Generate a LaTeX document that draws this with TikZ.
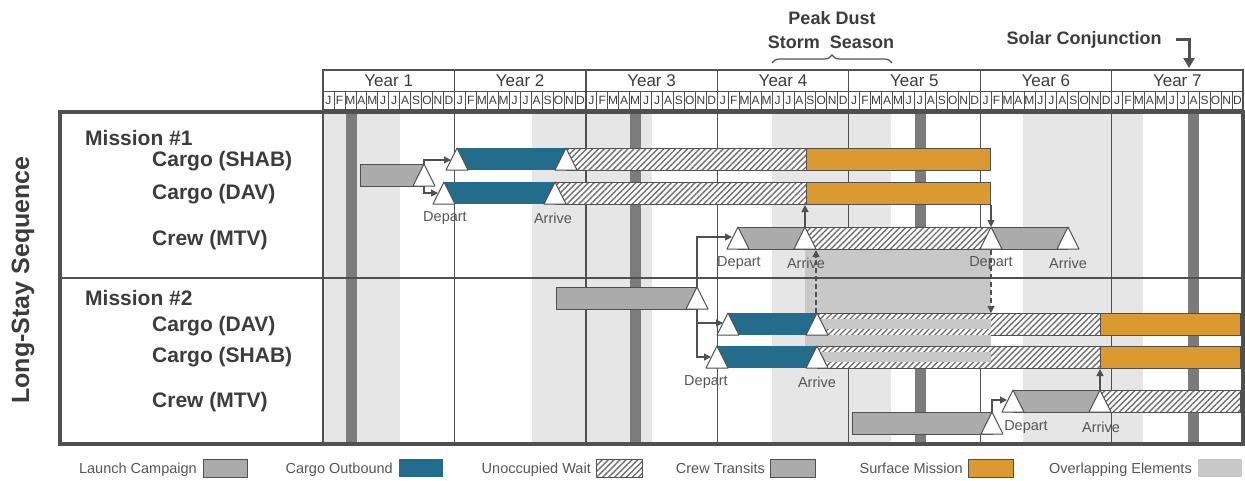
\documentclass[tikz,border=0pt]{standalone}
\usepackage{fontspec}
\setmainfont{Liberation Sans}
\usetikzlibrary{arrows.meta,patterns.meta,decorations.pathreplacing}
\definecolor{txt}{HTML}{3C3C3C}
\definecolor{lbl}{HTML}{555555}
\definecolor{edge}{HTML}{505050}
\definecolor{teal}{HTML}{246C8C}
\definecolor{orng}{HTML}{DA9A30}
\definecolor{lgray}{HTML}{ABABAB}
\definecolor{dkbar}{HTML}{7B7B7B}
\definecolor{dust}{HTML}{E6E6E6}
\definecolor{ovl}{HTML}{C8C8C8}
\definecolor{hatchc}{HTML}{707070}
\newcommand\myfs[1]{\fontsize{#1}{#1}\selectfont}
\newcommand\mytri[3]{%
  \draw[tri] (#2-11,#3+22) -- (#2,#3) -- (#2+11,#3+22) -- cycle;
  \coordinate (#1) at (#2,#3);
  \coordinate (#1-b) at (#2,#3+22);}
\tikzset{
  tri/.style={fill=white,draw=edge,line width=1pt,line join=round},
  launchbar/.style={fill=lgray,draw=edge,line width=0.9pt},
  crewbar/.style={fill=lgray,draw=none},
  tealbar/.style={fill=teal,draw=none},
  orangebar/.style={fill=orng,draw=edge,line width=0.8pt},
  hatchbar/.style={preaction={fill=white},pattern={Lines[angle=45,distance=4.2pt,line width=1.4pt]},pattern color=hatchc,draw=edge,line width=0.8pt},
  conn/.style={draw=edge,line width=1.2pt,-{Triangle[length=7pt,width=7pt]}},
  dconn/.style={conn,dashed,dash pattern=on 5pt off 3pt},
  rowlbl/.style={anchor=west,text=txt,font=\bfseries\myfs{21}},
  evlbl/.style={text=lbl,font=\myfs{14.5},inner sep=0pt},
  yearlbl/.style={text=txt,font=\myfs{17},inner sep=0pt},
  monlbl/.style={text=txt,font=\myfs{12},inner sep=0pt},
  leglbl/.style={anchor=base east,text=lbl,font=\myfs{14.5},inner sep=0pt},
}
\begin{document}
\begin{tikzpicture}[x=1pt,y=-1pt]
\useasboundingbox (0,0) rectangle (1245,480);
% dust storm seasons
\foreach \a/\b in {323/400,532/652,772/891,1023/1143}
  \fill[dust] (\a,113) rectangle (\b,444);
% solar conjunction bars
\foreach \a in {346,630,915,1188}
  \fill[dkbar] (\a,113) rectangle (\a+11,444);
% year lines
\foreach \k in {0,...,6}
  \draw[edge,line width=1.3pt] (323+\k*131.43,112) -- (323+\k*131.43,444);
% header
\draw[edge,line width=1.3pt] (323,70) rectangle (1243,110);
\draw[edge,line width=1pt] (323,91) -- (1243,91);
\foreach \k in {1,...,84}
  \draw[edge,line width=0.7pt] (323+\k*10.952,91) -- (323+\k*10.952,110);
\foreach \k in {1,...,6}
  \draw[edge,line width=1.3pt] (323+\k*131.43,70) -- (323+\k*131.43,110);
\foreach \k in {0,...,6}{
  \pgfmathtruncatemacro\yn{\k+1}
  \node[yearlbl] (y\k) at (323+\k*131.43+65.7,81) {Year \yn};
  \foreach \m [count=\i from 0] in {J,F,M,A,M,J,J,A,S,O,N,D}
    \node[monlbl] (m\k-\i) at (323+\k*131.43+\i*10.952+5.476,100.8) {\m};
}
% top annotations
\node[text=txt,font=\bfseries\myfs{18},inner sep=0pt] (peak) at (832,18) {Peak Dust};
\node[text=txt,font=\bfseries\myfs{18},inner sep=0pt] (storm) at (831,42) {Storm\ \ Season};
\coordinate (brL) at (772,63);
\coordinate (brR) at (892,63);
\draw[edge,line width=1.2pt,decorate,decoration={brace,amplitude=8pt}] (brL) -- (brR);
\node[text=txt,font=\bfseries\myfs{18},inner sep=0pt] (solar) at (1084,40) {Solar Conjunction};
\coordinate (solA) at (1176,39);
\coordinate (solB) at (1189,68);
\draw[edge,line width=3pt,-{Triangle[length=10pt,width=11pt]}] (solA) -| (solB);
% side labels
\node[rotate=90,text=txt,font=\bfseries\myfs{25},inner sep=0pt] (seq) at (23,280) {Long-Stay Sequence};
\node[rowlbl,inner sep=0pt] (mis1) at (85,138) {Mission \#1};
\node[rowlbl,inner sep=0pt] (m1s) at (152,161) {Cargo (SHAB)};
\node[rowlbl,inner sep=0pt] (m1d) at (152,194) {Cargo (DAV)};
\node[rowlbl,inner sep=0pt] (m1c) at (152,240) {Crew (MTV)};
\node[rowlbl,inner sep=0pt] (mis2) at (85,298) {Mission \#2};
\node[rowlbl,inner sep=0pt] (m2d) at (152,326) {Cargo (DAV)};
\node[rowlbl,inner sep=0pt] (m2s) at (152,357) {Cargo (SHAB)};
\node[rowlbl,inner sep=0pt] (m2c) at (152,402) {Crew (MTV)};
% ---- Mission 1 bars
\draw[launchbar] (360,164) rectangle (424,186);
\fill[tealbar] (457,148) rectangle (566,170);
\draw[hatchbar] (566,148) rectangle (806,170);
\draw[orangebar] (806,148) rectangle (990,170);
\fill[tealbar] (444,182) rectangle (555,204);
\draw[hatchbar] (555,182) rectangle (806,204);
\draw[orangebar] (806,182) rectangle (990,204);
\fill[crewbar] (738,227) rectangle (805,249);
\draw[edge,line width=0.8pt] (738,227) -- (805,227) (738,249) -- (805,249);
\draw[hatchbar] (805,227) rectangle (991,249);
\fill[crewbar] (991,227) rectangle (1068,249);
\draw[edge,line width=0.8pt] (991,227) -- (1068,227) (991,249) -- (1068,249);
% ---- Mission 2 bars
\draw[launchbar] (556,287) rectangle (697,309);
\fill[tealbar] (728,313) rectangle (817,335);
\draw[hatchbar] (817,313) rectangle (1100,335);
\draw[orangebar] (1100,313) rectangle (1240,335);
\fill[tealbar] (717,346) rectangle (817,368);
\draw[hatchbar] (817,346) rectangle (1100,368);
\draw[orangebar] (1100,346) rectangle (1240,368);
\draw[launchbar] (852,412) rectangle (992,434);
\fill[crewbar] (1013,390) rectangle (1100,412);
\draw[edge,line width=0.8pt] (1013,390) -- (1100,390) (1013,412) -- (1100,412);
\draw[hatchbar] (1100,390) rectangle (1240,412);
% overlapping elements
\fill[ovl] (805,250) rectangle (991,313);
\fill[ovl] (817,319) rectangle (991,329);
\fill[ovl] (805,335) rectangle (991,346);
\fill[ovl] (817,352) rectangle (991,362);
% divider
\draw[edge,line width=1.5pt] (60,278) -- (1243,278);
% triangles
\mytri{L1}{424}{164}
\mytri{S1a}{457}{148}
\mytri{S1b}{566}{148}
\mytri{D1a}{444}{182}
\mytri{D1b}{555}{182}
\mytri{C1a}{738}{227}
\mytri{C1b}{805}{227}
\mytri{C1c}{991}{227}
\mytri{C1d}{1068}{227}
\mytri{L2}{697}{287}
\mytri{D2a}{728}{313}
\mytri{D2b}{817}{313}
\mytri{S2a}{717}{346}
\mytri{S2b}{817}{346}
\mytri{L3}{992}{412}
\mytri{C2a}{1013}{390}
\mytri{C2b}{1100}{390}
% connector targets
\coordinate (S1in) at (451,160);
\coordinate (D1in) at (438,193);
\coordinate (C1in) at (732,237);
\coordinate (D2in) at (723,323);
\coordinate (S2in) at (711,357);
\coordinate (C2in) at (1007,400);
\coordinate (D1bot) at (805,205);
\coordinate (O1end) at (991,205);
\coordinate (C1bot) at (816,250);
\coordinate (D2top) at (816,313);
\coordinate (C1cb) at (991,250);
\coordinate (D2topR) at (991,313);
\coordinate (S2bot) at (1100,369);
% connectors
\draw[conn] (L1) |- (S1in);
\draw[conn] (L1-b) |- (D1in);
\draw[conn] (L2) |- (C1in);
\draw[conn] (L2-b) |- (D2in);
\draw[conn] (L2-b) |- (S2in);
\draw[conn] (L3) |- (C2in);
\draw[conn] (C1b) -- (D1bot);
\draw[conn] (O1end) -- (C1c);
\draw[conn] (C2b) -- (S2bot);
\draw[dconn] (D2top) -- (C1bot);
\draw[dconn] (C1cb) -- (D2topR);
% event labels
\node[evlbl] (e1) at (445,218) {Depart};
\node[evlbl] (e2) at (553,218) {Arrive};
\node[evlbl] (e3) at (739,263) {Depart};
\node[evlbl] (e4) at (806,263) {Arrive};
\node[evlbl] (e5) at (991,263) {Depart};
\node[evlbl] (e6) at (1068,263) {Arrive};
\node[evlbl] (e7) at (706,382) {Depart};
\node[evlbl] (e8) at (817,382) {Arrive};
\node[evlbl] (e9) at (1026,427) {Depart};
\node[evlbl] (e10) at (1101,427) {Arrive};
% main frame
\draw[edge,line width=3.5pt] (60,112) rectangle (1243,444);
% legend
\node[leglbl] (lg1) at (197,473.5) {Launch Campaign};
\draw[launchbar] (203,459) rectangle (247,477);
\node[leglbl] (lg2) at (393,473.5) {Cargo Outbound};
\fill[tealbar] (399,459) rectangle (443,477);
\node[leglbl] (lg3) at (591,473.5) {Unoccupied Wait};
\draw[hatchbar] (596,459) rectangle (642,477);
\node[leglbl] (lg4) at (765,473.5) {Crew Transits};
\draw[launchbar] (770,459) rectangle (815,477);
\node[leglbl] (lg5) at (963,473.5) {Surface Mission};
\draw[orangebar] (968,459) rectangle (1013,477);
\node[leglbl] (lg6) at (1192,473.5) {Overlapping Elements};
\fill[ovl] (1198,459) rectangle (1242,477);
\end{tikzpicture}
\end{document}
